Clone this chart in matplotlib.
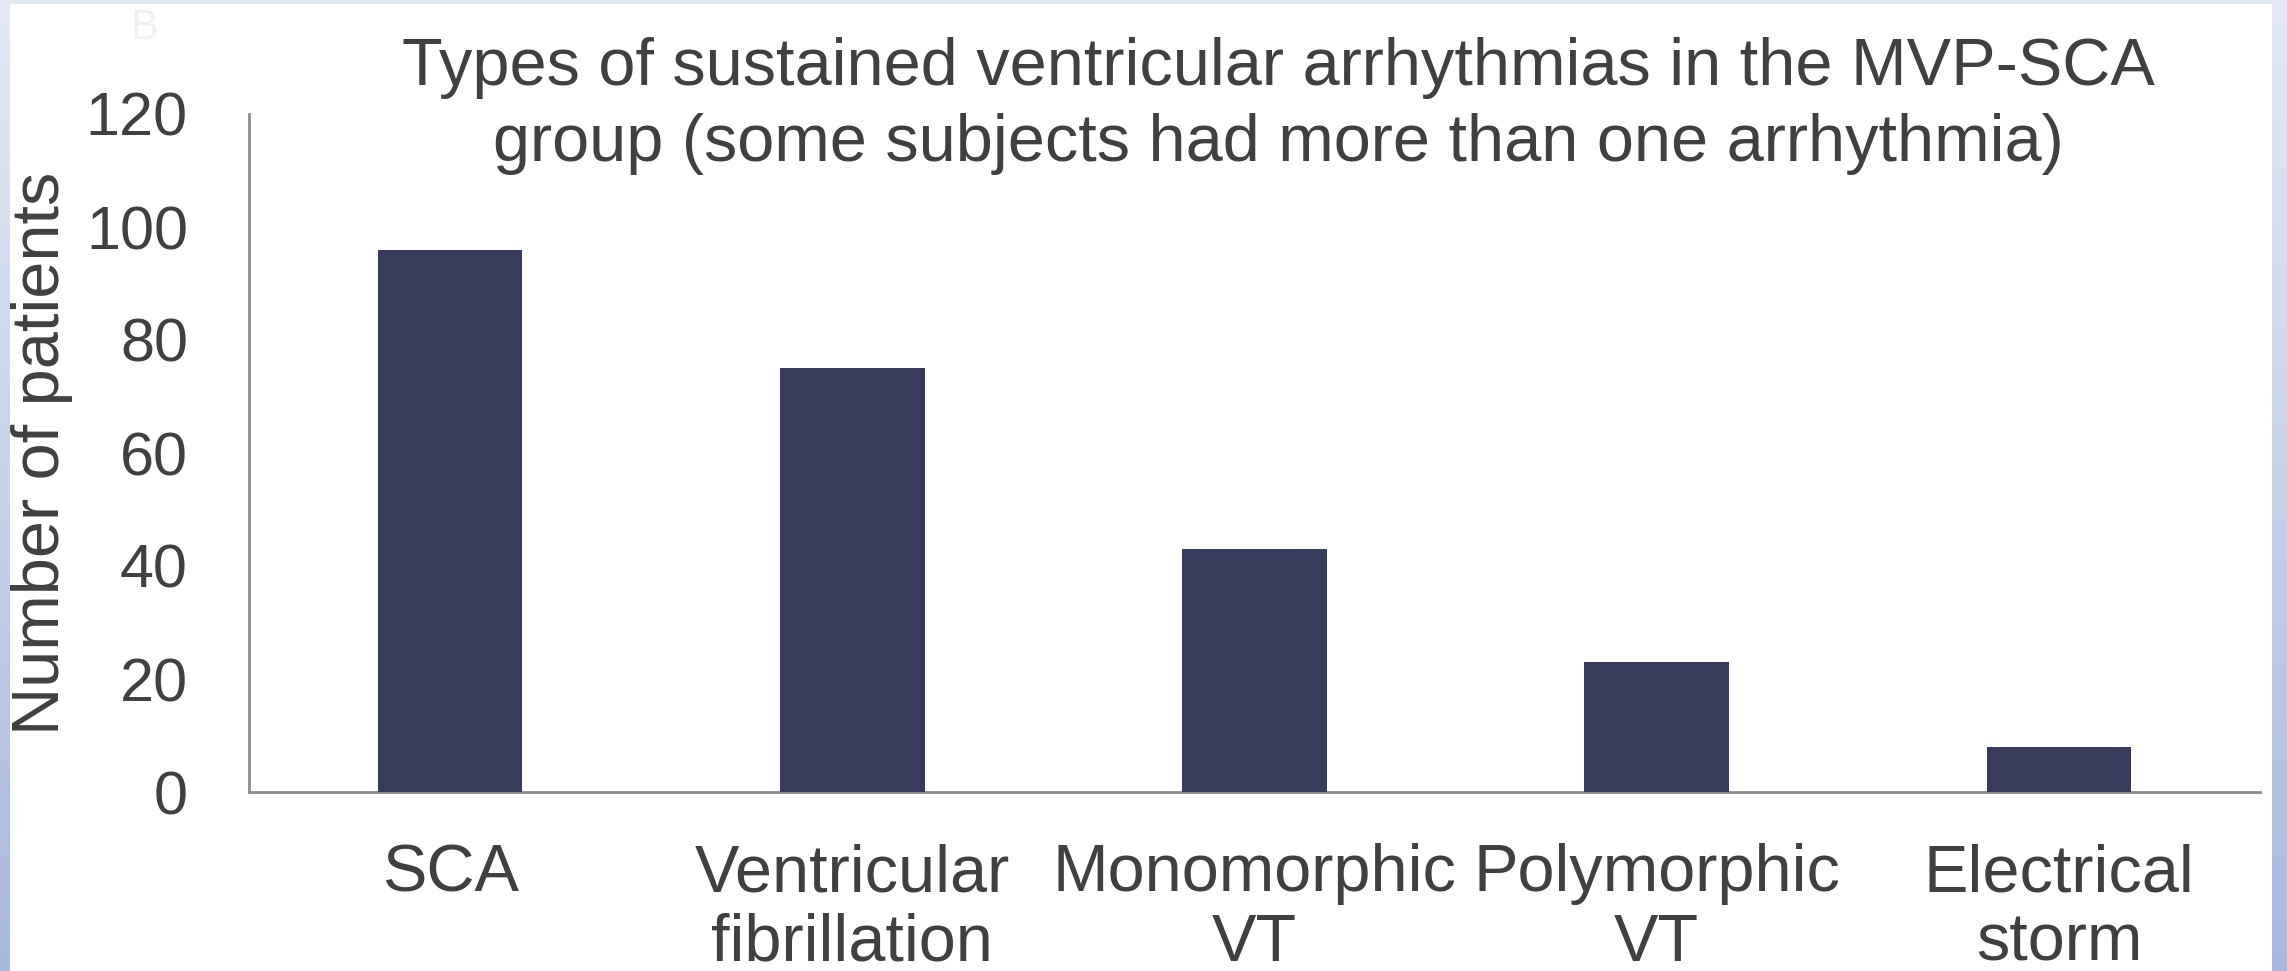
import numpy as np
import matplotlib.pyplot as plt
from matplotlib.patches import Rectangle

plt.rcParams['font.family'] = ['Liberation Sans', 'DejaVu Sans']

categories = ['SCA', 'Ventricular\nfibrillation', 'Monomorphic\nVT', 'Polymorphic\nVT', 'Electrical\nstorm']
patients = [96, 75, 43, 23, 8]
yticks = [0, 20, 40, 60, 80, 100, 120]

text_col = '#404040'
bar_col = '#383b5c'
fs = 48

fig = plt.figure(figsize=(22.87, 9.71), dpi=100)

# blue gradient frame behind a white panel
bg = fig.add_axes([0, 0, 1, 1], zorder=-10)
grad = np.linspace(0, 1, 256).reshape(-1, 1)
top = np.array([0.894, 0.914, 0.960])
bot = np.array([0.663, 0.725, 0.871])
img = top + (bot - top) * grad[:, :, None]
bg.imshow(img, aspect='auto', extent=[0, 1, 0, 1], origin='upper')
bg.add_patch(Rectangle((10 / 2287, 0), (2272 - 10) / 2287, 1 - 4 / 971,
                       facecolor='white', edgecolor='none'))
bg.text(145 / 2287, 1 - 28 / 971, 'B', fontsize=30, color='#f1f1f1',
        ha='center', va='center', transform=bg.transAxes)
bg.set_xlim(0, 1)
bg.set_ylim(0, 1)
bg.axis('off')

ax = fig.add_axes([249 / 2287, 1 - 792 / 971, (2260 - 249) / 2287, (792 - 114) / 971])
ax.set_facecolor('none')
x = np.arange(len(categories))
ax.bar(x, patients, width=0.36, color=bar_col, zorder=3)

ax.set_xlim(-0.5, len(categories) - 0.5)
ax.set_ylim(0, 120)
ax.set_yticks(yticks)
ax.set_xticks(x)
ax.set_xticklabels(categories, fontsize=fs, color=text_col, linespacing=1.15)
ax.tick_params(axis='y', length=0, pad=44, labelsize=44, labelcolor=text_col)
ax.tick_params(axis='x', length=0, pad=37)

for s in ['top', 'right']:
    ax.spines[s].set_visible(False)
for s in ['left', 'bottom']:
    ax.spines[s].set_color('#8c8c8c')
    ax.spines[s].set_linewidth(2)

ax.set_ylabel('Number of patients', fontsize=fs, color=text_col, labelpad=9)

fig.text(1278 / 2287, 1 - 106 / 971,
         'Types of sustained ventricular arrhythmias in the MVP-SCA\n'
         'group (some subjects had more than one arrhythmia)',
         ha='center', va='center', fontsize=fs, color=text_col, linespacing=1.3)

fig.savefig('out.png', dpi=100)
